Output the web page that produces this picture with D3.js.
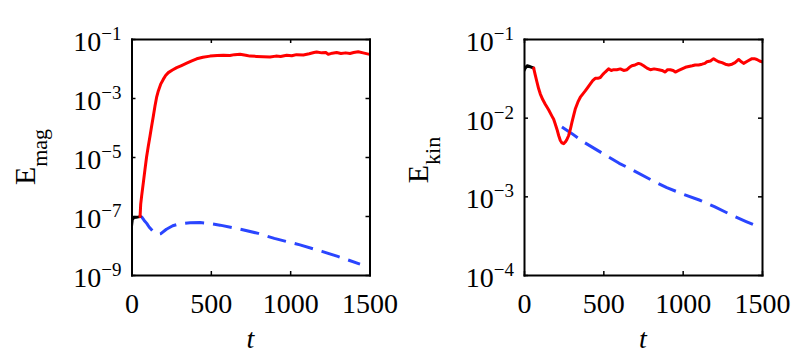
<!DOCTYPE html>
<html>
<head>
<meta charset="utf-8">
<script src="https://cdn.jsdelivr.net/npm/d3@7/dist/d3.min.js"></script>
<style>
  html, body { margin: 0; padding: 0; background: #fff; }
  svg { display: block; }
  text { font-family: "Liberation Serif", "Times New Roman", serif; fill: #000; }
</style>
</head>
<body>
<svg id="chart" width="806" height="364"></svg>
<script>
// ---------------- data (log10 of energy) ----------------
const xTicks = [0, 500, 1000, 1500];
const magTicksExp = [-1, -3, -5, -7, -9];
const kinTicksExp = [-1, -2, -3, -4];

// Left panel: E_mag
const magBlackT   = [0, 5, 15, 30, 45, 54];
const magBlackLog = [-7.35, -7.12, -7.05, -7.04, -7.03, -7.02];

const magRedT   = [54, 58, 64, 75, 85, 95, 106, 117, 127, 138, 148, 158, 169, 185, 200, 215, 232, 258, 285, 315, 348, 380, 411, 450, 495, 540, 579, 620, 650, 684, 720, 747, 790, 830, 873, 910, 940, 978, 1010, 1040, 1083, 1120, 1150, 1167, 1200, 1225, 1240, 1265, 1293, 1320, 1350, 1377, 1400, 1429, 1460, 1500];
const magRedLog = [-7.02, -6.6, -6.32, -5.85, -5.42, -5.0, -4.63, -4.28, -3.95, -3.6, -3.27, -2.98, -2.76, -2.52, -2.37, -2.24, -2.14, -2.05, -1.97, -1.90, -1.82, -1.74, -1.67, -1.62, -1.58, -1.56, -1.55, -1.56, -1.53, -1.52, -1.55, -1.58, -1.59, -1.60, -1.61, -1.58, -1.59, -1.55, -1.57, -1.53, -1.54, -1.50, -1.46, -1.44, -1.47, -1.46, -1.52, -1.48, -1.46, -1.49, -1.47, -1.49, -1.46, -1.43, -1.47, -1.52];

const magBlueT   = [54, 64, 80, 96, 112, 127, 148, 165, 185, 220, 260, 300, 369, 432, 500, 558, 663, 799, 900, 1062, 1200, 1300, 1440];
const magBlueLog = [-7.02, -7.03, -7.15, -7.25, -7.38, -7.47, -7.59, -7.62, -7.60, -7.45, -7.33, -7.27, -7.23, -7.22, -7.26, -7.31, -7.42, -7.59, -7.76, -7.98, -8.20, -8.37, -8.63];

// Right panel: E_kin
const kinBlackT   = [0, 8, 20, 35, 50, 61];
const kinBlackLog = [-1.40, -1.37, -1.34, -1.35, -1.36, -1.37];

const kinRedT   = [61, 70, 82, 92, 103, 118, 134, 155, 176, 187, 197, 208, 219, 229, 239, 250, 260, 270, 281, 292, 302, 313, 323, 340, 355, 370, 386, 400, 418, 433, 449, 465, 481, 497, 512, 533, 550, 565, 585, 607, 628, 649, 665, 680, 700, 722, 738, 754, 775, 796, 820, 849, 870, 890, 905, 922, 940, 954, 975, 996, 1017, 1038, 1060, 1079, 1100, 1122, 1140, 1153, 1175, 1195, 1210, 1227, 1248, 1269, 1290, 1311, 1330, 1353, 1370, 1384, 1410, 1437, 1452, 1468, 1485, 1500];
const kinRedLog = [-1.37, -1.45, -1.55, -1.63, -1.70, -1.77, -1.83, -1.90, -1.98, -2.02, -2.08, -2.15, -2.23, -2.29, -2.32, -2.33, -2.31, -2.28, -2.23, -2.15, -2.06, -1.97, -1.89, -1.80, -1.74, -1.70, -1.66, -1.62, -1.57, -1.53, -1.50, -1.50, -1.49, -1.45, -1.42, -1.38, -1.40, -1.39, -1.39, -1.38, -1.40, -1.39, -1.36, -1.34, -1.33, -1.31, -1.32, -1.34, -1.37, -1.39, -1.38, -1.39, -1.40, -1.42, -1.39, -1.39, -1.40, -1.42, -1.40, -1.38, -1.36, -1.35, -1.34, -1.33, -1.33, -1.32, -1.31, -1.29, -1.28, -1.25, -1.27, -1.29, -1.30, -1.32, -1.33, -1.32, -1.30, -1.26, -1.29, -1.31, -1.28, -1.25, -1.25, -1.26, -1.28, -1.29];

const kinBlueT   = [239, 300, 376, 500, 600, 689, 800, 900, 1000, 1109, 1200, 1300, 1400, 1493];
const kinBlueLog = [-2.12, -2.20, -2.31, -2.46, -2.58, -2.67, -2.79, -2.89, -2.97, -3.05, -3.13, -3.23, -3.32, -3.40];

// ---------------- drawing ----------------
const svg = d3.select("#chart");
const colRed = "#ff0000", colBlue = "#2a45ff", colBlack = "#000000";

function zip(ts, ls) { return ts.map((t, i) => [t, Math.pow(10, ls[i])]); }

function panel(opts) {
  const x = d3.scaleLinear().domain([0, 1500]).range([opts.left, opts.right]);
  const y = d3.scaleLog().domain(opts.yDomain).range([opts.bottom, opts.top]);
  const g = svg.append("g");

  const line = d3.line().x(d => x(d[0])).y(d => y(d[1]));
  const clip = "clip" + opts.name;
  svg.append("clipPath").attr("id", clip).append("rect")
    .attr("x", x.range()[0]).attr("y", y.range()[1])
    .attr("width", x.range()[1] - x.range()[0]).attr("height", y.range()[0] - y.range()[1]);
  const lines = g.append("g").attr("clip-path", `url(#${clip})`);

  opts.series.forEach(s => {
    lines.append("path").datum(zip(s.t, s.v))
      .attr("d", line).attr("fill", "none").attr("stroke", s.color)
      .attr("stroke-width", 3).attr("stroke-linejoin", "round")
      .attr("stroke-linecap", s.dash ? "butt" : "round")
      .attr("stroke-dasharray", s.dash || null);
  });

  const tickVals = opts.ticksExp.map(e => Math.pow(10, e));
  const styleAxis = sel => {
    sel.select(".domain").attr("stroke", "#000").attr("stroke-width", 2).attr("stroke-linecap", "square");
    sel.selectAll(".tick line").attr("stroke", "#000").attr("stroke-width", 1.5);
  };

  // left axis with labels
  const ax = g.append("g").attr("transform", `translate(${opts.left},0)`)
    .call(d3.axisLeft(y).tickValues(tickVals).tickSizeInner(-4).tickSizeOuter(0).tickPadding(10).tickFormat(() => ""));
  styleAxis(ax);
  ax.selectAll(".tick text").each(function (d) {
    const t = d3.select(this);
    const e = Math.round(Math.log10(d));
    t.text(null).attr("dy", "11.5px").attr("font-size", 28).attr("font-family", "Liberation Serif");
    t.append("tspan").text("10");
    t.append("tspan").attr("dy", -11).attr("font-size", 19).text("\u2212" + Math.abs(e));
  });
  // right axis, no labels
  styleAxis(g.append("g").attr("transform", `translate(${opts.right},0)`)
    .call(d3.axisRight(y).tickValues(tickVals).tickSizeInner(-4).tickSizeOuter(0).tickFormat(() => "")));
  // bottom axis with labels
  const bx = g.append("g").attr("transform", `translate(0,${opts.bottom})`)
    .call(d3.axisBottom(x).tickValues(xTicks).tickSizeInner(-4).tickSizeOuter(0).tickFormat(d3.format("d")));
  styleAxis(bx);
  bx.selectAll(".tick text").attr("y", 38).attr("dy", 0).attr("font-size", 28).attr("font-family", "Liberation Serif");
  // top axis, no labels
  styleAxis(g.append("g").attr("transform", `translate(0,${opts.top})`)
    .call(d3.axisTop(x).tickValues(xTicks).tickSizeInner(-4).tickSizeOuter(0).tickFormat(() => "")));

  // x label
  g.append("text").attr("x", (opts.left + opts.right) / 2).attr("y", 348)
    .attr("text-anchor", "middle").attr("font-size", 28).attr("font-style", "italic").text("t");

  // y label
  const cy = (opts.top + opts.bottom) / 2 + opts.labelShift;
  const lx = opts.left - 96.5;
  const yl = g.append("text").attr("transform", `translate(${lx},${cy}) rotate(-90)`)
    .attr("text-anchor", "middle");
  yl.append("tspan").attr("font-size", 30).text("E");
  yl.append("tspan").attr("font-size", 22).attr("dy", 12).text(opts.sub);
}

panel({
  name: "mag", left: 131.5, right: 369.5, top: 39, bottom: 275,
  yDomain: [1e-9, 1e-1], ticksExp: magTicksExp, sub: "mag", labelShift: 0,
  series: [
    { t: magBlueT, v: magBlueLog, color: colBlue, dash: "19,9" },
    { t: magBlackT, v: magBlackLog, color: colBlack },
    { t: magRedT, v: magRedLog, color: colRed }
  ]
});

panel({
  name: "kin", left: 524, right: 762, top: 39, bottom: 275,
  yDomain: [1e-4, 1e-1], ticksExp: kinTicksExp, sub: "kin", labelShift: 3,
  series: [
    { t: kinBlueT, v: kinBlueLog, color: colBlue, dash: "19,9" },
    { t: kinBlackT, v: kinBlackLog, color: colBlack },
    { t: kinRedT, v: kinRedLog, color: colRed }
  ]
});
</script>
</body>
</html>
